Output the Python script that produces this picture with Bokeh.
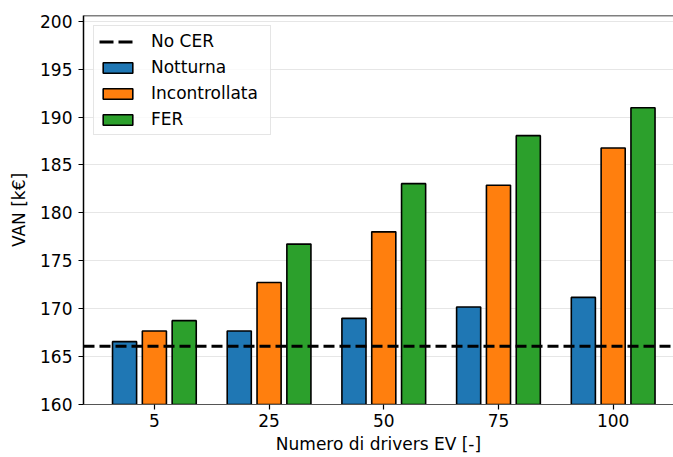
from bokeh.plotting import figure
from bokeh.models import (ColumnDataSource, FixedTicker, Span, Legend, LegendItem,
                          Range1d)
from bokeh.embed import file_html
from bokeh.resources import INLINE

# ---- data ----
categories = ["5", "25", "50", "75", "100"]
notturna = [166.56, 167.67, 168.99, 170.17, 171.18]
incontrollata = [167.67, 172.74, 178.02, 182.88, 186.77]
fer = [168.75, 176.74, 183.05, 188.06, 190.97]
no_cer = 166.07
y_ticks = [160, 165, 170, 175, 180, 185, 190, 195, 200]

series_names = ["Notturna", "Incontrollata", "FER"]
series_values = [notturna, incontrollata, fer]
colors = ["#1f77b4", "#ff7f0e", "#2ca02c"]
offsets = [-0.26, 0.0, 0.26]
bar_w = 0.21

FONT = "DejaVu Sans"
FS = "17px"

p = figure(width=673, height=457, output_backend="svg", toolbar_location=None,
           x_range=Range1d(-0.618, 4.526), y_range=Range1d(160, 200.6),
           min_border_left=83, min_border_right=0, min_border_top=15,
           min_border_bottom=53)
p.outline_line_color = None
p.background_fill_color = "white"
p.border_fill_color = "white"

# top spine
p.add_layout(Span(location=200.6, dimension="width", line_color="black",
                  line_width=1.5))

xs = list(range(len(categories)))
items = []

# legend proxy for the No CER line (single point: draws nothing itself)
proxy = p.line(x=[xs[0]], y=[no_cer], line_color="black", line_width=3,
               line_dash="14 5")
items.append(LegendItem(label="No CER", renderers=[proxy]))

for name, vals, col, off in zip(series_names, series_values, colors, offsets):
    src = ColumnDataSource(dict(x=[x + off for x in xs], top=vals))
    r = p.vbar(x="x", top="top", bottom=0, width=bar_w, source=src,
               fill_color=col, line_color="black", line_width=1.6)
    items.append(LegendItem(label=name, renderers=[r]))

# No CER reference line across the whole plot, above the bars
p.add_layout(Span(location=no_cer, dimension="width", line_color="black",
                  line_width=3, line_dash="11 5", level="overlay"))

legend = Legend(items=items, location="top_left")
legend.label_text_font = FONT
legend.label_text_font_size = FS
legend.label_text_color = "black"
legend.label_height = 20
legend.label_width = 114
legend.glyph_width = 37
legend.glyph_height = 13
legend.spacing = 6
legend.padding = 5
legend.margin = 10
legend.label_standoff = 15
legend.border_line_color = "#cccccc"
legend.border_line_width = 1
legend.background_fill_color = "white"
legend.background_fill_alpha = 0.8
p.add_layout(legend)

# axes
p.xaxis.ticker = FixedTicker(ticks=xs)
p.xaxis.major_label_overrides = {i: c for i, c in enumerate(categories)}
p.yaxis.ticker = FixedTicker(ticks=y_ticks)
p.xaxis.axis_label = "Numero di drivers EV [-]"
p.yaxis.axis_label = "VAN [k€]"
for ax in (p.xaxis[0], p.yaxis[0]):
    ax.axis_label_text_font = FONT
    ax.axis_label_text_font_size = FS
    ax.axis_label_text_font_style = "normal"
    ax.axis_label_text_color = "black"
    ax.major_label_text_font = FONT
    ax.major_label_text_font_size = FS
    ax.major_label_text_color = "black"
    ax.major_tick_out = 5
    ax.major_tick_in = 0
    ax.minor_tick_out = 0
    ax.minor_tick_in = 0
    ax.major_tick_line_color = "black"
    ax.major_tick_line_width = 1.2
p.xaxis.major_label_standoff = 4
p.xaxis.axis_label_standoff = 4
p.yaxis.major_label_standoff = 6
p.yaxis.axis_label_standoff = 8
p.yaxis.axis_line_color = "black"
p.yaxis.axis_line_width = 1.5
p.xaxis.axis_line_color = "#555555"
p.xaxis.axis_line_width = 1.2

p.xgrid.grid_line_color = None
p.ygrid.grid_line_color = "#e6e6e6"
p.ygrid.grid_line_width = 1.2
p.ygrid.ticker = FixedTicker(ticks=y_ticks)

open("out.html", "w").write(file_html(p, INLINE))
